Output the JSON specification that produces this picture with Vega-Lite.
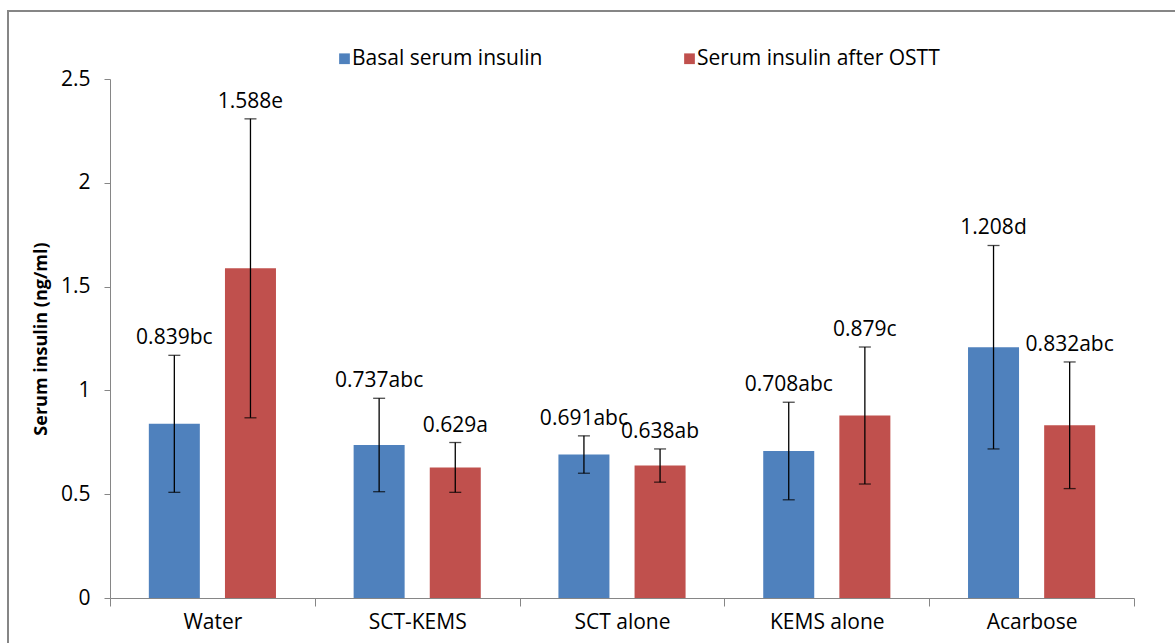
{
  "$schema": "https://vega.github.io/schema/vega-lite/v6.json",
  "autosize": "none",
  "padding": {"left": 8, "top": 11, "right": 0, "bottom": 0},
  "width": 1180,
  "height": 660,
  "background": "white",
  "config": {
    "font": "Open Sans",
    "view": {"stroke": "#868686", "strokeWidth": 2},
    "axis": {
      "grid": false,
      "domainColor": "#868686",
      "tickColor": "#868686",
      "labelColor": "#000000",
      "labelFont": "Open Sans",
      "labelFontSize": 21
    }
  },
  "data": {
    "values": [
      {"group": "Water", "series": "Basal serum insulin", "value": 0.839, "low": 0.509, "high": 1.169, "label": "0.839bc"},
      {"group": "Water", "series": "Serum insulin after OSTT", "value": 1.588, "low": 0.868, "high": 2.308, "label": "1.588e"},
      {"group": "SCT-KEMS", "series": "Basal serum insulin", "value": 0.737, "low": 0.512, "high": 0.962, "label": "0.737abc"},
      {"group": "SCT-KEMS", "series": "Serum insulin after OSTT", "value": 0.629, "low": 0.509, "high": 0.749, "label": "0.629a"},
      {"group": "SCT alone", "series": "Basal serum insulin", "value": 0.691, "low": 0.601, "high": 0.781, "label": "0.691abc"},
      {"group": "SCT alone", "series": "Serum insulin after OSTT", "value": 0.638, "low": 0.558, "high": 0.718, "label": "0.638ab"},
      {"group": "KEMS alone", "series": "Basal serum insulin", "value": 0.708, "low": 0.473, "high": 0.943, "label": "0.708abc"},
      {"group": "KEMS alone", "series": "Serum insulin after OSTT", "value": 0.879, "low": 0.549, "high": 1.209, "label": "0.879c"},
      {"group": "Acarbose", "series": "Basal serum insulin", "value": 1.208, "low": 0.718, "high": 1.698, "label": "1.208d"},
      {"group": "Acarbose", "series": "Serum insulin after OSTT", "value": 0.832, "low": 0.527, "high": 1.137, "label": "0.832abc"}
    ]
  },
  "encoding": {
    "x": {
      "field": "group",
      "type": "nominal",
      "sort": null,
      "scale": {"range": [102, 1126], "paddingInner": 0, "paddingOuter": 0},
      "axis": {
        "title": null,
        "offset": -73,
        "labelAngle": 0,
        "tickBand": "extent",
        "tickSize": 8,
        "labelPadding": 5
      }
    },
    "xOffset": {
      "field": "series",
      "type": "nominal",
      "sort": ["Basal serum insulin", "Serum insulin after OSTT"],
      "scale": {"paddingInner": 0.33, "paddingOuter": 0.51}
    }
  },
  "layer": [
    {
      "mark": {"type": "bar"},
      "encoding": {
        "y": {
          "field": "value",
          "type": "quantitative",
          "scale": {"domain": [0, 2.5], "range": [587, 68], "nice": false},
          "axis": {
            "title": "Serum insulin (ng/ml)",
            "titleFont": "Open Sans",
            "titleFontSize": 18,
            "titleFontWeight": "bold",
            "titleColor": "#000000",
            "titlePadding": 10,
            "offset": -102,
            "values": [0, 0.5, 1, 1.5, 2, 2.5],
            "format": "~g",
            "tickSize": 6,
            "labelPadding": 14
          }
        },
        "color": {
          "field": "series",
          "type": "nominal",
          "sort": ["Basal serum insulin", "Serum insulin after OSTT"],
          "scale": {"range": ["#4F81BD", "#C0504D"]},
          "legend": {
            "title": null,
            "orient": "none",
            "direction": "horizontal",
            "legendX": 326,
            "legendY": 37,
            "padding": 0,
            "symbolType": "square",
            "symbolSize": 115,
            "symbolStrokeWidth": 0,
            "labelFont": "Open Sans",
            "labelFontSize": 21,
            "labelColor": "#000000",
            "labelOffset": -3,
            "columnPadding": 136,
            "labelLimit": 400
          }
        }
      }
    },
    {
      "mark": {"type": "rule", "color": "#000000", "strokeWidth": 1.3},
      "encoding": {
        "y": {"field": "low", "type": "quantitative"},
        "y2": {"field": "high"}
      }
    },
    {
      "mark": {"type": "tick", "color": "#000000", "size": 12, "thickness": 1.3},
      "encoding": {"y": {"field": "low", "type": "quantitative"}}
    },
    {
      "mark": {"type": "tick", "color": "#000000", "size": 12, "thickness": 1.3},
      "encoding": {"y": {"field": "high", "type": "quantitative"}}
    },
    {
      "mark": {"type": "text", "baseline": "alphabetic", "dy": -11, "fontSize": 21, "font": "Open Sans", "color": "#000000"},
      "encoding": {
        "y": {"field": "high", "type": "quantitative"},
        "text": {"field": "label", "type": "nominal"}
      }
    }
  ]
}
